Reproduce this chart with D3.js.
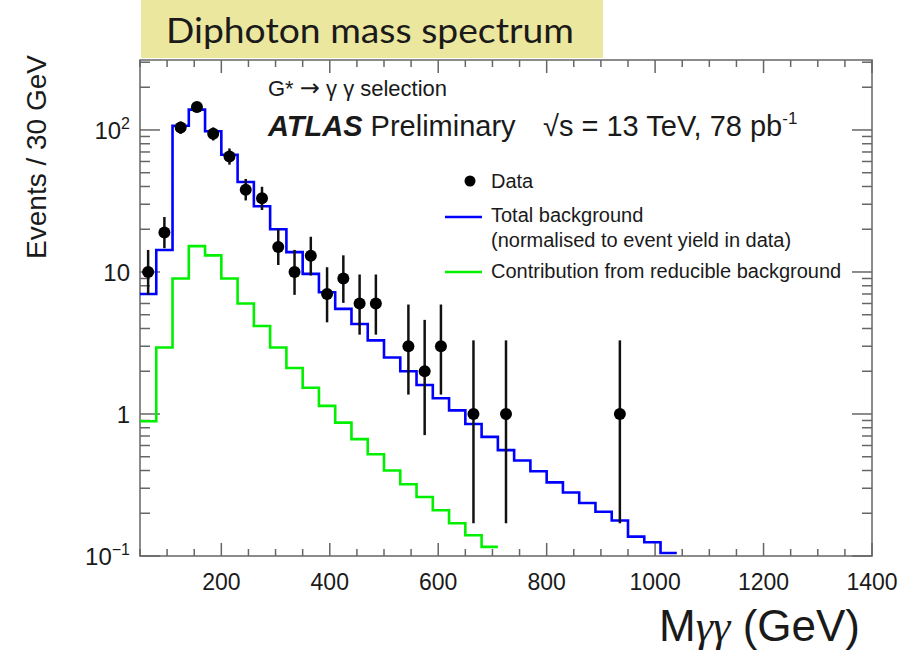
<!DOCTYPE html>
<html>
<head>
<meta charset="utf-8">
<script src="https://cdn.jsdelivr.net/npm/d3@7"></script>
<style>
  body { margin: 0; background: #fff; }
  svg text { font-family: "Liberation Sans", Arial, sans-serif; fill: #1a1a1a; }
</style>
</head>
<body>
<div id="chart"></div>
<script>
// bins are 30 GeV wide, low edges listed explicitly
var BIN_WIDTH = 30;
var binLowEdges = [50, 80, 110, 140, 170, 200, 230, 260, 290, 320, 350, 380, 410, 440, 470,
    500, 530, 560, 590, 620, 650, 680, 710, 740, 770, 800, 830, 860, 890, 920, 950, 980, 1010];

// observed events per bin (first 30 bins)
var dataCounts = [10, 19, 104, 145, 94, 65, 38, 33, 15, 10, 13, 7, 9, 6, 6, 0, 3, 2, 3, 0,
    1, 0, 1, 0, 0, 0, 0, 0, 0, 1];
var dataErrLow = [6.9, 14.7, 93.8, 133, 84.3, 57.0, 31.9, 27.3, 11.2, 6.9, 9.45, 4.42, 6.06, 3.62, 3.62, null,
    1.37, 0.71, 1.37, null, 0.17, null, 0.17, null, null, null, null, null, null, 0.17];
var dataErrHigh = [14.3, 24.4, 114.7, 157.5, 104.2, 74.1, 45.2, 39.8, 20.0, 14.3, 17.7, 10.8, 13.1, 9.6, 9.6, null,
    5.9, 4.6, 5.9, null, 3.3, null, 3.3, null, null, null, null, null, null, 3.3];

// total background (blue), 33 bins
var totalBkg = [7.0, 14.3, 107, 139, 98, 67, 43, 29, 20, 13.8, 9.7, 7.2, 5.5, 4.3, 3.3, 2.5, 2.0, 1.6,
    1.29, 1.06, 0.85, 0.69, 0.557, 0.47, 0.395, 0.33, 0.28, 0.236, 0.205, 0.178, 0.137, 0.125, 0.105];
// reducible background (green), 22 bins
var reducibleBkg = [0.89, 2.94, 9.0, 15.2, 13.1, 9.0, 6.0, 4.17, 2.94, 2.11, 1.53, 1.14, 0.87, 0.665,
    0.52, 0.40, 0.32, 0.26, 0.21, 0.17, 0.14, 0.116];

var xMajorTicks = [200, 400, 600, 800, 1000, 1200, 1400];
var yMajorTicks = [0.1, 1, 10, 100];
var yTickLabels = ["10", "1", "10", "10"];
var yTickExps = ["\u22121", "", "", "2"];

var legendLabels = ["Data", "Total background", "(normalised to event yield in data)",
    "Contribution from reducible background"];

var W = 908, H = 653;
var LEFT = 140, RIGHT = 872, TOP = 60, BOTTOM = 556;

var svg = d3.select("#chart").append("svg")
    .attr("width", W).attr("height", H);

var x = d3.scaleLinear().domain([50, 1400]).range([LEFT, RIGHT]);
var y = d3.scaleLog().domain([0.1, 311]).range([BOTTOM, TOP]);

function drawTitleBox() {
    svg.append("rect")
        .attr("x", 141).attr("y", 0)
        .attr("width", 462).attr("height", 58)
        .attr("fill", "#ece79f");
    svg.append("text")
        .attr("x", 166).attr("y", 43)
        .style("font-family", "Lato, 'Open Sans', sans-serif")
        .attr("font-size", 34)
        .attr("textLength", 408).attr("lengthAdjust", "spacingAndGlyphs")
        .text("Diphoton mass spectrum");
}

function drawFrame() {
    var g = svg.append("g").attr("stroke", "#666").attr("stroke-width", 1.5);
    // minor x ticks every 50 GeV
    var xMinor = d3.range(50, 1401, 50);
    xMinor.forEach(function (v) {
        var major = xMajorTicks.indexOf(v) >= 0;
        var len = major ? 13 : 7;
        g.append("line").attr("x1", x(v)).attr("x2", x(v))
            .attr("y1", BOTTOM).attr("y2", BOTTOM - len);
        g.append("line").attr("x1", x(v)).attr("x2", x(v))
            .attr("y1", TOP).attr("y2", TOP + len);
    });
    var yTicks = y.ticks();
    yTicks.forEach(function (v) {
        var major = yMajorTicks.indexOf(v) >= 0;
        var len = major ? 20 : 10;
        g.append("line").attr("x1", LEFT).attr("x2", LEFT + len)
            .attr("y1", y(v)).attr("y2", y(v));
        g.append("line").attr("x1", RIGHT).attr("x2", RIGHT - len)
            .attr("y1", y(v)).attr("y2", y(v));
    });
    g.append("rect")
        .attr("x", LEFT).attr("y", TOP)
        .attr("width", RIGHT - LEFT).attr("height", BOTTOM - TOP)
        .attr("fill", "none");
}

function drawTickLabels() {
    xMajorTicks.forEach(function (v) {
        svg.append("text")
            .attr("x", x(v)).attr("y", BOTTOM + 34)
            .attr("text-anchor", "middle")
            .attr("font-size", 23)
            .text(v);
    });
    yMajorTicks.forEach(function (v, i) {
        var t = svg.append("text")
            .attr("x", LEFT - 10).attr("y", y(v) + 9)
            .attr("text-anchor", "end")
            .attr("font-size", 24);
        t.append("tspan").text(yTickLabels[i]);
        if (yTickExps[i]) {
            t.append("tspan").attr("dy", -10).attr("font-size", 16).text(yTickExps[i]);
        }
    });
    svg.append("text")
        .attr("transform", "translate(46,157) rotate(-90)")
        .attr("text-anchor", "middle")
        .attr("font-size", 28)
        .text("Events / 30 GeV");
    var xt = svg.append("text")
        .attr("x", 860).attr("y", 641)
        .attr("text-anchor", "end")
        .attr("font-size", 44);
    xt.append("tspan").text("M");
    xt.append("tspan").style("font-family", "'Liberation Serif', serif").attr("font-style", "italic")
        .text("\u03b3\u03b3");
    xt.append("tspan").text(" (GeV)");
}

function histPoints(values) {
    var pts = values.map(function (v, i) { return [binLowEdges[i], v]; });
    var last = values.length - 1;
    pts.push([binLowEdges[last] + BIN_WIDTH, values[last]]);
    return pts;
}

function drawHistograms() {
    svg.append("clipPath").attr("id", "plotclip")
        .append("rect").attr("x", LEFT).attr("y", TOP)
        .attr("width", RIGHT - LEFT).attr("height", BOTTOM - TOP);
    var line = d3.line()
        .x(function (d) { return x(d[0]); })
        .y(function (d) { return y(d[1]); })
        .curve(d3.curveStepAfter);
    var g = svg.append("g").attr("clip-path", "url(#plotclip)");
    g.append("path").datum(histPoints(reducibleBkg))
        .attr("d", line).attr("fill", "none")
        .attr("stroke", "#00f000").attr("stroke-width", 2.6);
    g.append("path").datum(histPoints(totalBkg))
        .attr("d", line).attr("fill", "none")
        .attr("stroke", "#0000ff").attr("stroke-width", 2.6);
}

function drawData() {
    var g = svg.append("g");
    dataCounts.forEach(function (n, i) {
        if (n <= 0) return;
        var cx = x(binLowEdges[i] + BIN_WIDTH / 2);
        g.append("line")
            .attr("x1", cx).attr("x2", cx)
            .attr("y1", y(dataErrLow[i])).attr("y2", y(dataErrHigh[i]))
            .attr("stroke", "#111").attr("stroke-width", 2.5);
        g.append("circle")
            .attr("cx", cx).attr("cy", y(n)).attr("r", 6)
            .attr("fill", "#000");
    });
}

function drawLabels() {
    var sel = svg.append("text")
        .attr("x", 268).attr("y", 96)
        .attr("font-size", 22)
        .attr("fill", "#333");
    sel.append("tspan").text("G* ");
    sel.append("tspan").style("font-family", "'DejaVu Sans', sans-serif").attr("font-size", 24)
        .text("\u2192");
    sel.append("tspan").text(" \u03b3 \u03b3 selection");
    var t = svg.append("text").attr("x", 268).attr("y", 136).attr("font-size", 29);
    t.append("tspan").attr("font-weight", "bold").attr("font-style", "italic").text("ATLAS");
    t.append("tspan").text(" Preliminary");
    var s = svg.append("text").attr("x", 543).attr("y", 136).attr("font-size", 29);
    s.append("tspan").text("\u221as = 13 TeV, 78 pb");
    s.append("tspan").attr("dy", -12).attr("font-size", 17).text("-1");

    // legend
    var lx = 491;
    svg.append("circle").attr("cx", 470).attr("cy", 181).attr("r", 5.5).attr("fill", "#000");
    svg.append("text").attr("x", lx).attr("y", 188).attr("font-size", 20).text(legendLabels[0]);
    svg.append("line").attr("x1", 445).attr("x2", 482).attr("y1", 217).attr("y2", 217)
        .attr("stroke", "#0000ff").attr("stroke-width", 2.6);
    svg.append("text").attr("x", lx).attr("y", 222).attr("font-size", 20).text(legendLabels[1]);
    svg.append("text").attr("x", lx).attr("y", 247).attr("font-size", 20).text(legendLabels[2]);
    svg.append("line").attr("x1", 445).attr("x2", 482).attr("y1", 272).attr("y2", 272)
        .attr("stroke", "#00f000").attr("stroke-width", 2.6);
    svg.append("text").attr("x", lx).attr("y", 278).attr("font-size", 20).text(legendLabels[3]);
}

drawTitleBox();
drawFrame();
drawHistograms();
drawData();
drawTickLabels();
drawLabels();
</script>
</body>
</html>
